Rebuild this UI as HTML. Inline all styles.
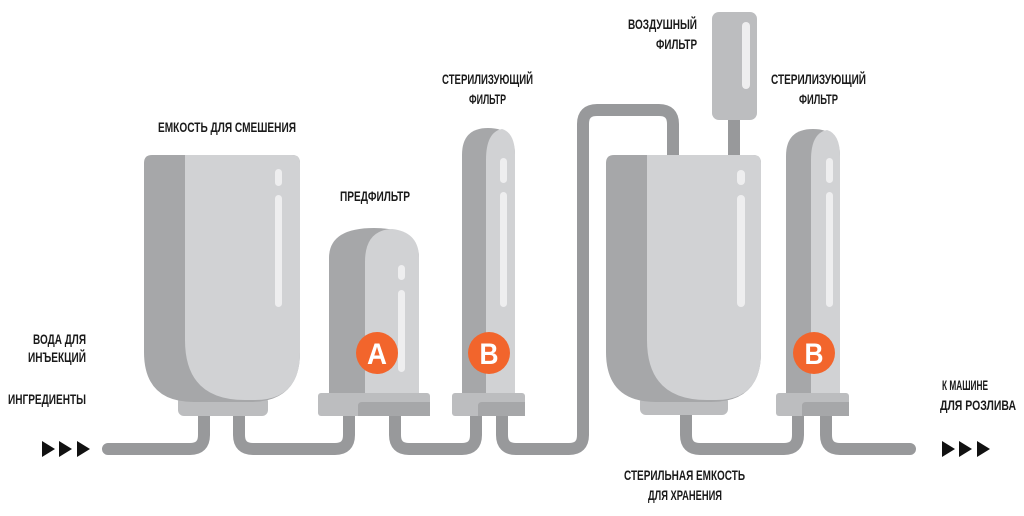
<!DOCTYPE html>
<html><head><meta charset="utf-8"><style>
html,body{margin:0;padding:0;background:#fff;width:1024px;height:516px;overflow:hidden}
svg text{font-family:"Liberation Sans",sans-serif;font-weight:bold;font-size:14px;fill:#1a1a1a}
</style></head><body>
<svg width="1024" height="516" viewBox="0 0 1024 516" xmlns="http://www.w3.org/2000/svg">
<g fill="none" stroke="#98999b" stroke-width="12" stroke-linecap="round" stroke-linejoin="round">
<path d="M108,449 H190 Q204,449 204,435 V412"/>
<path d="M239,412 V435 Q239,449 253,449 H335 Q349,449 349,435 V412"/>
<path d="M395,412 V435 Q395,449 409,449 H462 Q476,449 476,435 V412"/>
<path d="M502,412 V435 Q502,449 516,449 H569 Q583,449 583,435 V124 Q583,110 597,110 H659 Q673,110 673,124 V160"/>
<path d="M686,412 V435 Q686,449 700,449 H784 Q798,449 798,435 V412"/>
<path d="M826,412 V435 Q826,449 840,449 H910"/>
</g>
<rect x="728" y="115" width="12" height="45" fill="#98999b"/>
<g fill="#111"><polygon points="42,441 55,449 42,457"/><polygon points="59,441 72,449 59,457"/><polygon points="77,441 90,449 77,457"/>
<polygon points="942,441 955,449 942,457"/><polygon points="959,441 972,449 959,457"/><polygon points="977,441 990,449 977,457"/></g>
<rect x="178" y="396" width="90" height="20" rx="6" fill="#bcbdbf"/>
<path d="M152,155 H292 Q300,155 300,163 V352 Q300,402 250,402 H194 Q144,402 144,352 V163 Q144,155 152,155Z" fill="#a6a7a9"/>
<path d="M185,155 H292 Q300,155 300,163 V352 Q300,400 255,400 H245 Q185,400 185,340Z" fill="#d1d2d4"/>
<rect x="275" y="169" width="7" height="17" rx="3.5" fill="#eeeeef"/>
<rect x="275" y="195" width="7" height="112" rx="3.5" fill="#eeeeef"/>
<path d="M329,400 V258 Q329,228 374,228 Q419,228 419,258 V400Z" fill="#a6a7a9"/>
<path d="M365,400 V262 Q365,230 392,229 Q419,232 419,258 V400Z" fill="#d1d2d4"/>
<rect x="398" y="265" width="7" height="15" rx="3.5" fill="#eeeeef"/>
<rect x="398" y="290" width="7" height="82" rx="3.5" fill="#eeeeef"/>
<rect x="318" y="393" width="112" height="23" rx="3" fill="#bcbdbf"/>
<path d="M358,416 V406 Q358,402 362,402 H430 V416Z" fill="#a6a7a9"/>
<circle cx="377" cy="353" r="21" fill="#f2652c"/>
<text x="377" y="364" text-anchor="middle" textLength="20" lengthAdjust="spacingAndGlyphs" style="font-size:30px;fill:#fff">A</text>
<path d="M462,400 V155 Q462,128 488,128 Q515,128 515,155 V400Z" fill="#a6a7a9"/>
<path d="M486,400 V160 Q486,132 502,129 Q515,133 515,155 V400Z" fill="#d1d2d4"/>
<rect x="500" y="158" width="7" height="25" rx="3.5" fill="#eeeeef"/>
<rect x="500" y="192" width="7" height="115" rx="3.5" fill="#eeeeef"/>
<rect x="452" y="393" width="73" height="23" rx="3" fill="#bcbdbf"/>
<path d="M478,416 V406 Q478,402 482,402 H525 V416Z" fill="#a6a7a9"/>
<circle cx="489" cy="353" r="21" fill="#f2652c"/>
<text x="489" y="364" text-anchor="middle" textLength="19" lengthAdjust="spacingAndGlyphs" style="font-size:30px;fill:#fff">B</text>
<rect x="712" y="12" width="45" height="108" rx="7" fill="#bcbdbf"/>
<rect x="742" y="22" width="8" height="67" rx="4" fill="#eeeeef"/>
<rect x="640" y="396" width="88" height="19" rx="6" fill="#bcbdbf"/>
<path d="M614,155 H753 Q761,155 761,163 V352 Q761,402 711,402 H656 Q606,402 606,352 V163 Q606,155 614,155Z" fill="#a6a7a9"/>
<path d="M647,155 H753 Q761,155 761,163 V352 Q761,400 716,400 H707 Q647,400 647,340Z" fill="#d1d2d4"/>
<rect x="737" y="170" width="8" height="15" rx="4" fill="#eeeeef"/>
<rect x="737" y="195" width="8" height="112" rx="4" fill="#eeeeef"/>
<path d="M786,400 V156 Q786,129 813,129 Q840,129 840,156 V400Z" fill="#a6a7a9"/>
<path d="M811,400 V160 Q811,133 827,130 Q840,134 840,156 V400Z" fill="#d1d2d4"/>
<rect x="826" y="158" width="7" height="25" rx="3.5" fill="#eeeeef"/>
<rect x="826" y="192" width="7" height="115" rx="3.5" fill="#eeeeef"/>
<rect x="776" y="393" width="73" height="23" rx="3" fill="#bcbdbf"/>
<path d="M802,416 V406 Q802,402 806,402 H849 V416Z" fill="#a6a7a9"/>
<circle cx="814" cy="353" r="21" fill="#f2652c"/>
<text x="814" y="364" text-anchor="middle" textLength="19" lengthAdjust="spacingAndGlyphs" style="font-size:30px;fill:#fff">B</text>
<g>
<text x="158" y="132" textLength="138" lengthAdjust="spacingAndGlyphs">ЕМКОСТЬ ДЛЯ СМЕШЕНИЯ</text>
<text x="340" y="201" textLength="70" lengthAdjust="spacingAndGlyphs">ПРЕДФИЛЬТР</text>
<text x="442" y="84" textLength="91" lengthAdjust="spacingAndGlyphs">СТЕРИЛИЗУЮЩИЙ</text>
<text x="469" y="104" textLength="37" lengthAdjust="spacingAndGlyphs">ФИЛЬТР</text>
<text x="628" y="29" textLength="69" lengthAdjust="spacingAndGlyphs">ВОЗДУШНЫЙ</text>
<text x="656" y="49" textLength="41" lengthAdjust="spacingAndGlyphs">ФИЛЬТР</text>
<text x="771" y="84" textLength="95" lengthAdjust="spacingAndGlyphs">СТЕРИЛИЗУЮЩИЙ</text>
<text x="799" y="104" textLength="39" lengthAdjust="spacingAndGlyphs">ФИЛЬТР</text>
<text x="33" y="344" textLength="53" lengthAdjust="spacingAndGlyphs">ВОДА ДЛЯ</text>
<text x="28" y="362" textLength="58" lengthAdjust="spacingAndGlyphs">ИНЪЕКЦИЙ</text>
<text x="8" y="404" textLength="78" lengthAdjust="spacingAndGlyphs">ИНГРЕДИЕНТЫ</text>
<text x="942" y="390" textLength="46" lengthAdjust="spacingAndGlyphs">К МАШИНЕ</text>
<text x="940" y="410" textLength="76" lengthAdjust="spacingAndGlyphs">ДЛЯ РОЗЛИВА</text>
<text x="624" y="480" textLength="121" lengthAdjust="spacingAndGlyphs">СТЕРИЛЬНАЯ ЕМКОСТЬ</text>
<text x="648" y="500" textLength="74" lengthAdjust="spacingAndGlyphs">ДЛЯ ХРАНЕНИЯ</text>
</g>
</svg>
</body></html>
